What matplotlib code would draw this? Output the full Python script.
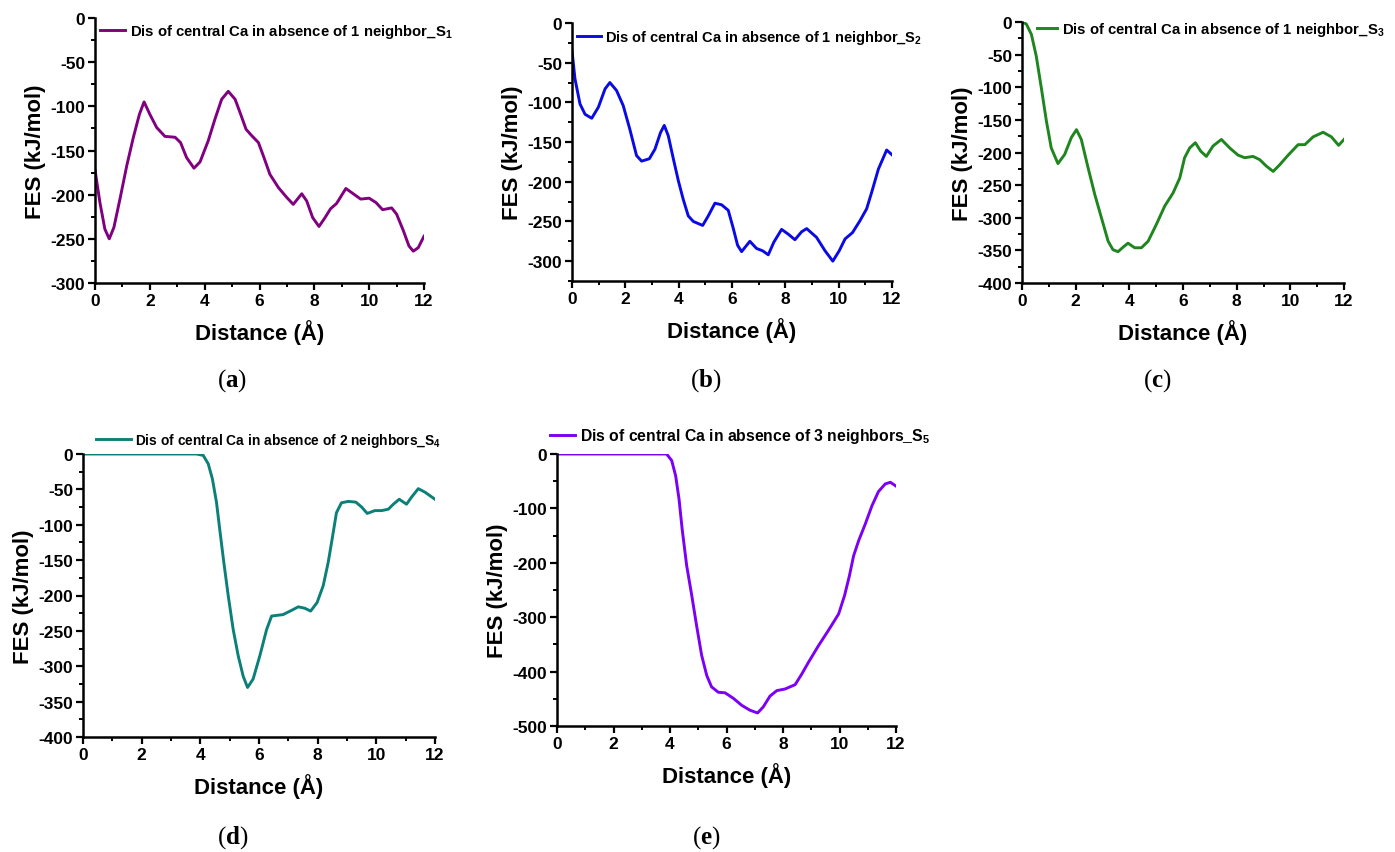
import numpy as np
import matplotlib
matplotlib.use("Agg")
import matplotlib.pyplot as plt
from matplotlib.ticker import MultipleLocator

plt.rcParams['font.family'] = ['Liberation Sans', 'DejaVu Sans']
plt.rcParams['mathtext.fontset'] = 'custom'
plt.rcParams['mathtext.rm'] = 'Liberation Sans:bold'
plt.rcParams['mathtext.bf'] = 'Liberation Serif:bold'
plt.rcParams['axes.unicode_minus'] = False

# (a) S1
x_a = [0, 0.18, 0.36, 0.52, 0.69, 0.91, 1.16, 1.4, 1.62, 1.79, 2.0, 2.25, 2.55, 2.92,
       3.12, 3.34, 3.61, 3.83, 4.13, 4.38, 4.62, 4.86, 5.11, 5.29, 5.51, 5.71, 5.96,
       6.14, 6.38, 6.69, 6.99, 7.23, 7.54, 7.72, 7.94, 8.17, 8.39, 8.59, 8.81, 9.15,
       9.42, 9.69, 10.0, 10.25, 10.49, 10.82, 11.0, 11.25, 11.45, 11.61, 11.79, 12.0]
y_a = [-172, -209, -239, -250, -237, -205, -167, -135, -109, -95, -109, -124, -134, -135,
       -141, -158, -170, -163, -139, -114, -92, -83, -92, -107, -126, -133, -141,
       -156, -177, -192, -203, -211, -199, -207, -226, -236, -226, -216, -210, -193,
       -199, -205, -204, -209, -217, -215, -222, -241, -258, -264, -260, -247]

# (b) S2
x_b = [0, 0.11, 0.3, 0.49, 0.74, 0.99, 1.24, 1.42, 1.67, 1.92, 2.17, 2.42, 2.61, 2.9,
       3.11, 3.32, 3.46, 3.61, 3.8, 3.99, 4.17, 4.36, 4.55, 4.9, 5.11, 5.36, 5.61, 5.86,
       6.05, 6.21, 6.36, 6.67, 6.92, 7.15, 7.36, 7.57, 7.86, 8.11, 8.36, 8.61, 8.8,
       9.17, 9.49, 9.78, 10.02, 10.24, 10.52, 10.8, 11.05, 11.24, 11.49, 11.8, 12.0]
y_b = [-35, -70, -102, -115, -120, -106, -83, -75, -85, -104, -134, -167, -174, -171,
       -159, -138, -129, -142, -171, -199, -222, -243, -250, -255, -243, -227, -229, -236,
       -259, -280, -288, -275, -284, -287, -292, -276, -260, -266, -273, -263, -259,
       -270, -287, -300, -287, -272, -264, -249, -234, -213, -184, -160, -166]

# (c) S3
x_c = [0, 0.16, 0.35, 0.53, 0.72, 0.91, 1.09, 1.34, 1.59, 1.84, 2.03, 2.21, 2.46, 2.71,
       2.96, 3.21, 3.39, 3.58, 3.77, 3.95, 4.2, 4.45, 4.7, 5.01, 5.32, 5.63, 5.88, 6.06,
       6.25, 6.46, 6.66, 6.87, 7.12, 7.43, 7.74, 8.05, 8.3, 8.61, 8.86, 9.11, 9.36, 9.6,
       9.92, 10.29, 10.54, 10.85, 11.22, 11.53, 11.8, 12.0]
y_c = [0, -3, -19, -52, -101, -152, -193, -217, -203, -177, -165, -180, -223, -264,
       -300, -336, -349, -352, -345, -339, -346, -346, -336, -310, -282, -262, -239, -208,
       -193, -185, -198, -206, -190, -180, -193, -204, -208, -206, -211, -221, -229, -219,
       -204, -188, -188, -176, -169, -176, -189, -180]

# (d) S4
x_d = [0, 3.87, 4.1, 4.27, 4.41, 4.55, 4.66, 4.8, 4.95, 5.12, 5.29, 5.46, 5.61, 5.8,
       6.03, 6.26, 6.43, 6.82, 7.11, 7.34, 7.56, 7.76, 7.98, 8.19, 8.36, 8.51, 8.64,
       8.81, 9.04, 9.3, 9.5, 9.69, 9.95, 10.18, 10.41, 10.58, 10.78, 11.03, 11.2, 11.43,
       11.66, 12.0]
y_d = [0, 0, -2, -14, -35, -68, -106, -153, -200, -248, -285, -314, -330, -318,
       -285, -248, -229, -227, -221, -216, -218, -222, -210, -186, -153, -116, -83,
       -69, -67, -68, -75, -84, -80, -80, -78, -71, -64, -71, -61, -49,
       -54, -64]

# (e) S5
x_e = [0, 3.88, 4.06, 4.2, 4.32, 4.43, 4.59, 4.77, 4.94, 5.12, 5.3, 5.47, 5.71, 5.95,
       6.24, 6.54, 6.83, 7.1, 7.3, 7.54, 7.78, 8.07, 8.43, 8.67, 8.9, 9.26, 9.61, 9.97,
       10.18, 10.35, 10.5, 10.68, 10.91, 11.15, 11.38, 11.62, 11.8, 12.0]
y_e = [0, 0, -12, -40, -83, -138, -205, -260, -315, -370, -407, -428, -438, -439,
       -449, -462, -471, -476, -465, -445, -435, -432, -424, -404, -383, -352, -324, -294,
       -260, -224, -187, -159, -129, -95, -69, -55, -52, -59]

labels = [r"Dis of central Ca in absence of 1 neighbor_S$_\mathrm{1}$",
          r"Dis of central Ca in absence of 1 neighbor_S$_\mathrm{2}$",
          r"Dis of central Ca in absence of 1 neighbor_S$_\mathrm{3}$",
          r"Dis of central Ca in absence of 2 neighbors_S$_\mathrm{4}$",
          r"Dis of central Ca in absence of 3 neighbors_S$_\mathrm{5}$"]
colors = ['#800080', '#0a0ae6', '#1f861f', '#0b8078', '#7b00f5']
captions = ['a', 'b', 'c', 'd', 'e']

fig = plt.figure(figsize=(13.95, 8.53), dpi=100)
W, H = 1395, 853

# axes boxes in pixels: left, right, top, bottom
boxes = [(95, 424, 19, 284), (572, 892, 24, 282), (1022, 1344, 23, 284),
         (83, 435, 455, 738), (557, 896, 455, 727)]
ylims = [(-300, 0), (-325, 0), (-400, 0), (-400, 0), (-500, 0)]
ymajor = [50, 50, 50, 50, 100]
# legend anchor (pixel x of handle start, pixel y), handle length, font size
legpos = [(100, 32, 1.68, 10.75), (577, 38, 1.65, 10.5), (1037, 30, 1.35, 10.7),
          (96, 441, 2.55, 9.9), (550, 437, 1.6, 11.3)]
capxy = [(232, 381), (706, 381), (1157, 381), (233, 838), (706, 838)]

data = [(x_a, y_a), (x_b, y_b), (x_c, y_c), (x_d, y_d), (x_e, y_e)]

for i, (xs, ys) in enumerate(data):
    l, r, t, b = boxes[i]
    ax = fig.add_axes([l / W, 1 - b / H, (r - l) / W, (b - t) / H])
    ax.plot(xs, ys, color=colors[i], lw=2.1, label=labels[i],
            solid_joinstyle='round')
    ax.set_xlim(0, 12)
    ax.set_ylim(*ylims[i])
    ax.xaxis.set_major_locator(MultipleLocator(2))
    ax.xaxis.set_minor_locator(MultipleLocator(1))
    ax.yaxis.set_major_locator(MultipleLocator(ymajor[i]))
    ax.yaxis.set_minor_locator(MultipleLocator(ymajor[i] / 2))
    for s in ['top', 'right']:
        ax.spines[s].set_visible(False)
    for s in ['left', 'bottom']:
        ax.spines[s].set_linewidth(1.8)
    ax.tick_params(which='major', direction='out', length=5, width=1.6,
                   labelsize=12.5, pad=2)
    ax.tick_params(which='minor', direction='out', length=3, width=1.4)
    for lab in ax.get_xticklabels() + ax.get_yticklabels():
        lab.set_fontweight('bold')
    ax.set_xlabel('Distance (Å)', fontsize=16, fontweight='bold', labelpad=8)
    ax.set_ylabel('FES (kJ/mol)', fontsize=16, fontweight='bold', labelpad=3)

    lx, ly, hl, fs = legpos[i]
    ax.legend(loc='center left', bbox_to_anchor=(lx / W, 1 - ly / H),
              bbox_transform=fig.transFigure, frameon=False, borderpad=0,
              borderaxespad=0, handlelength=hl, handletextpad=0.3,
              prop={'weight': 'bold', 'size': fs})

    cx, cy = capxy[i]
    fig.text(cx / W, 1 - cy / H, r"($\mathbf{%s}$)" % captions[i],
             family='Liberation Serif', fontsize=18, ha='center', va='center')

fig.savefig('out.png', dpi=100)
